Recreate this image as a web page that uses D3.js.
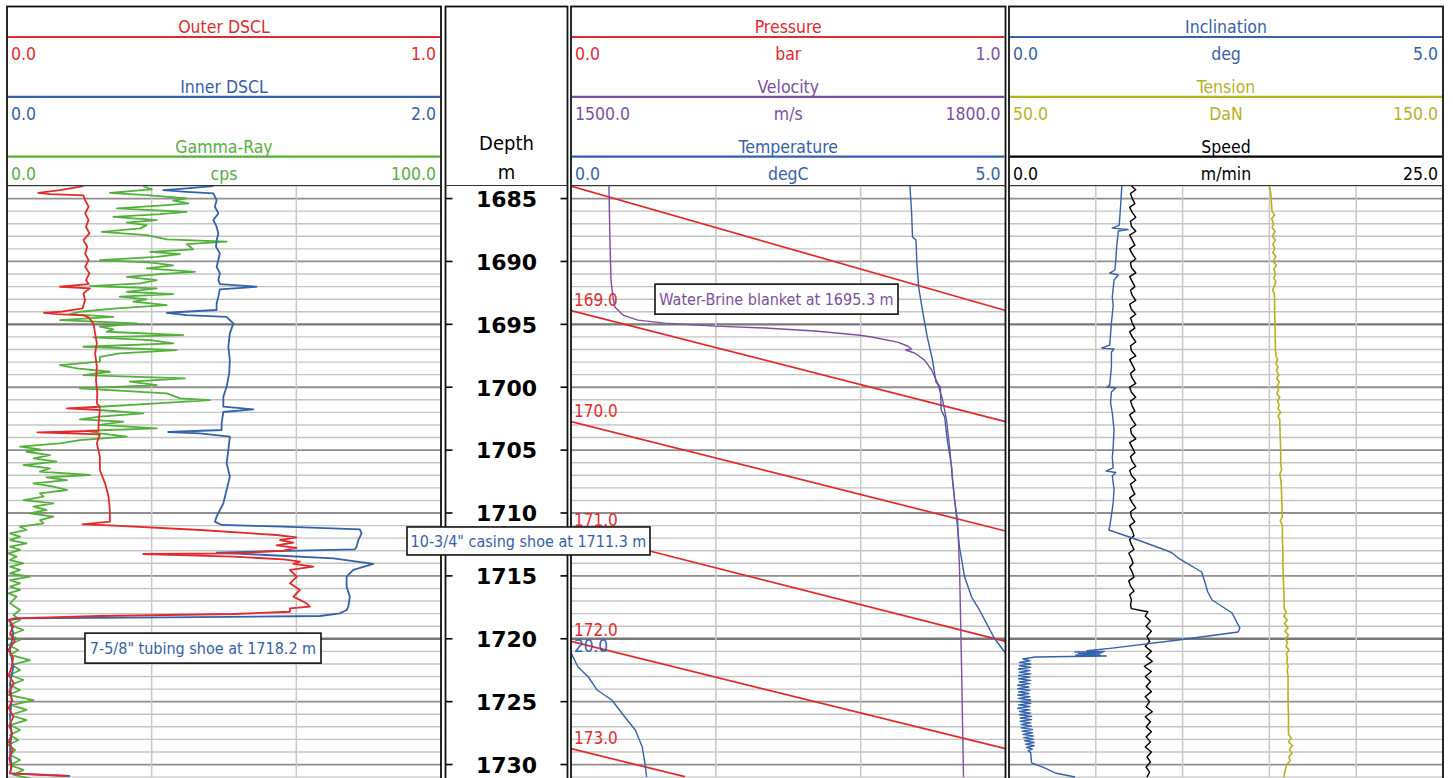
<!DOCTYPE html>
<html>
<head>
<meta charset="utf-8">
<script src="https://cdn.jsdelivr.net/npm/d3@7"></script>
<style>
  html, body { margin: 0; padding: 0; background: #fff; }
  svg { display: block; }
  text { font-family: "DejaVu Sans Condensed", "DejaVu Sans", sans-serif; }
</style>
</head>
<body>
<svg id="chart" width="1453" height="778"></svg>
<script>
// ---------------- Log data (depth in m, value in curve units) ----------------
const depthTicks = [1685, 1690, 1695, 1700, 1705, 1710, 1715, 1720, 1725, 1730];
const heavyDepths = [1695, 1720];

const outerDscl = [
  [1684.01,0.176],[1684.33,0.122],[1684.54,0.072],[1684.64,0.099],[1684.75,0.176],[1685.12,0.180],[1685.65,0.188],
  [1686.18,0.180],[1686.71,0.188],[1687.24,0.182],[1687.77,0.190],[1688.30,0.176],[1688.83,0.185],[1689.36,0.180],
  [1689.89,0.188],[1690.42,0.180],[1690.95,0.190],[1691.48,0.182],[1691.80,0.188],[1692.01,0.122],[1692.14,0.191],
  [1692.54,0.176],[1693.07,0.180],[1693.73,0.174],[1694.00,0.122],[1694.08,0.085],[1694.18,0.115],[1694.29,0.176],
  [1694.45,0.188],[1694.93,0.199],[1695.72,0.203],[1696.52,0.207],[1697.31,0.203],[1698.37,0.207],[1699.43,0.205],
  [1700.49,0.208],[1701.28,0.207],[1701.55,0.214],[1701.68,0.138],[1701.81,0.214],[1702.87,0.211],[1703.46,0.211],
  [1703.59,0.070],[1703.75,0.214],[1704.46,0.207],[1705.52,0.214],[1706.58,0.214],[1707.64,0.226],[1708.70,0.234],
  [1709.76,0.237],[1710.69,0.237],[1710.90,0.174],[1710.98,0.237],[1711.35,0.445],[1711.75,0.621],[1711.93,0.667],
  [1712.15,0.629],[1712.36,0.660],[1712.57,0.621],[1712.78,0.667],[1712.99,0.637],[1713.21,0.522],[1713.26,0.314],
  [1713.47,0.522],[1713.68,0.637],[1713.87,0.675],[1714.05,0.660],[1714.27,0.706],[1714.53,0.652],[1715.06,0.668],
  [1715.59,0.652],[1716.12,0.675],[1716.65,0.660],[1717.18,0.690],[1717.45,0.698],[1717.58,0.652],[1717.85,0.652],
  [1718.03,0.522],[1718.19,0.214],[1718.38,0.015],[1718.51,0.003],[1719.00,0.015],[1719.57,0.007],[1720.20,0.018],
  [1720.89,0.003],[1721.50,0.014],[1722.22,0.011],[1722.90,0.004],[1723.54,0.016],[1724.20,0.005],[1724.87,0.012],
  [1725.50,0.004],[1726.19,0.015],[1726.90,0.005],[1727.52,0.012],[1728.20,0.004],[1728.84,0.013],[1729.50,0.005],
  [1730.17,0.010],[1730.70,0.007],[1730.91,0.138]
];

const innerDscl = [
  [1684.01,0.951],[1684.19,0.828],[1684.33,0.720],[1684.46,0.828],[1684.59,0.951],[1685.12,0.966],[1685.65,0.958],
  [1686.18,0.974],[1686.71,0.951],[1687.24,0.966],[1687.77,0.974],[1688.30,0.966],[1688.83,0.963],[1689.36,0.981],
  [1689.89,0.974],[1690.42,0.966],[1690.95,0.981],[1691.48,0.974],[1691.80,0.981],[1692.01,1.150],[1692.22,0.981],
  [1692.80,0.974],[1693.33,0.966],[1693.86,0.966],[1694.02,0.797],[1694.08,0.736],[1694.26,0.828],[1694.40,1.012],
  [1694.66,1.027],[1694.93,1.043],[1695.72,1.027],[1696.78,1.020],[1697.84,1.027],[1698.90,1.024],[1699.96,1.012],
  [1700.75,0.997],[1701.55,0.997],[1701.76,1.135],[1701.97,0.997],[1702.87,0.989],[1703.40,0.989],[1703.56,0.743],
  [1703.67,0.889],[1703.93,1.027],[1704.99,1.020],[1706.05,1.012],[1707.11,1.027],[1708.17,1.012],[1709.23,0.997],
  [1710.29,0.966],[1710.69,0.958],[1710.95,0.989],[1711.09,1.273],[1711.30,1.626],[1711.62,1.634],[1712.15,1.619],
  [1712.68,1.611],[1712.89,1.603],[1713.05,1.196],[1713.15,0.966],[1713.34,1.196],[1713.60,1.504],[1714.05,1.688],
  [1714.53,1.596],[1715.06,1.565],[1715.86,1.565],[1716.65,1.580],[1717.45,1.573],[1717.71,1.565],[1717.98,1.534],
  [1718.19,1.442],[1718.30,0.736],[1718.38,0.060],[1718.51,0.014],[1719.57,0.029],[1720.89,0.014],[1722.22,0.029],
  [1723.54,0.014],[1724.87,0.021],[1726.19,0.014],[1727.52,0.021],[1728.84,0.014],[1730.17,0.021],[1730.70,0.014],
  [1730.91,0.290]
];

const gammaRay = [
  [1684.01,31.4],[1684.27,33.3],[1684.54,23.7],[1684.72,32.2],[1684.99,41.4],[1685.17,38.3],[1685.38,41.8],[1685.52,36.8],
  [1685.78,25.3],[1686.05,41.4],[1686.23,35.3],[1686.45,24.5],[1686.71,34.5],[1686.92,27.6],[1687.11,32.2],[1687.37,30.7],
  [1687.64,21.8],[1687.90,32.2],[1688.25,36.8],[1688.43,50.6],[1688.62,41.4],[1688.83,42.2],[1689.04,42.9],[1689.23,33.0],
  [1689.41,39.9],[1689.63,34.5],[1689.89,21.4],[1690.10,33.3],[1690.31,38.3],[1690.55,32.2],[1690.82,43.3],[1691.03,34.5],
  [1691.22,27.6],[1691.48,34.5],[1691.75,30.7],[1691.96,19.1],[1692.14,34.5],[1692.41,27.6],[1692.59,38.3],[1692.80,26.0],
  [1693.02,32.2],[1693.20,29.1],[1693.47,36.8],[1693.73,25.3],[1694.00,16.8],[1694.18,14.5],[1694.40,24.5],[1694.66,12.2],
  [1694.93,29.9],[1695.19,21.4],[1695.40,24.5],[1695.59,23.0],[1695.85,40.6],[1696.04,19.9],[1696.25,33.0],[1696.52,38.3],
  [1696.78,17.6],[1697.05,39.1],[1697.31,26.0],[1697.58,21.4],[1697.97,21.4],[1698.24,12.2],[1698.50,16.1],[1698.77,23.7],
  [1699.03,17.6],[1699.30,41.0],[1699.56,28.3],[1699.83,34.5],[1700.09,16.8],[1700.49,36.8],[1700.89,39.9],[1701.02,46.8],
  [1701.28,34.5],[1701.55,21.4],[1701.81,21.4],[1702.08,31.4],[1702.34,21.4],[1702.55,16.8],[1702.74,26.8],[1703.00,21.4],
  [1703.27,34.5],[1703.46,18.4],[1703.67,21.4],[1703.93,27.6],[1704.20,16.8],[1704.46,12.2],[1704.73,3.0],[1704.94,7.6],
  [1705.13,4.5],[1705.39,9.9],[1705.66,6.1],[1705.92,11.4],[1706.19,3.8],[1706.45,9.9],[1706.71,7.6],[1706.98,19.1],
  [1707.17,9.1],[1707.38,13.8],[1707.64,6.1],[1707.91,10.7],[1708.17,13.8],[1708.44,7.6],[1708.70,8.4],[1708.97,3.8],
  [1709.23,10.7],[1709.50,6.1],[1709.76,9.1],[1710.03,5.3],[1710.29,10.7],[1710.56,7.6],[1710.82,8.4],[1711.09,3.0],
  [1711.35,4.5],[1711.62,0.7],[1711.88,3.0],[1712.15,0.7],[1712.41,4.5],[1712.68,0.7],[1712.94,3.0],[1713.21,0.3],
  [1713.47,2.2],[1713.74,0.7],[1714.00,3.8],[1714.27,0.7],[1714.53,3.0],[1714.80,0.7],[1715.06,5.3],[1715.33,0.7],
  [1715.59,3.0],[1715.86,0.7],[1716.12,3.0],[1716.39,0.3],[1716.65,2.2],[1717.18,0.7],[1717.71,3.0],[1718.11,1.5],
  [1718.51,3.0],[1718.90,0.7],[1719.30,3.8],[1719.70,0.7],[1720.10,3.0],[1720.49,0.3],[1720.89,2.6],[1721.29,0.7],
  [1721.69,5.3],[1722.08,1.1],[1722.48,3.0],[1722.88,0.7],[1723.28,3.8],[1723.68,0.7],[1724.07,3.0],[1724.47,0.3],
  [1724.87,6.1],[1725.27,1.1],[1725.66,4.5],[1726.06,0.7],[1726.46,4.5],[1726.86,0.7],[1727.25,3.0],[1727.65,0.7],
  [1728.05,2.6],[1728.45,0.3],[1728.84,1.9],[1729.24,0.7],[1729.64,3.0],[1730.04,0.7],[1730.43,3.8],[1730.83,1.5],
  [1731.10,5.3]
];

// pressure in bar, drawn wrapped on a 1 bar wide scale
const pressure = [
  [1684.01,168.0],[1693.90,169.0],[1702.73,170.0],[1711.43,171.0],[1720.21,172.0],[1728.74,173.0],[1730.96,173.262]
];

const velocity = [
  [1684.01,1526.2],[1688.30,1526.9],[1691.48,1527.6],[1692.83,1529.0],[1693.62,1530.3],[1694.26,1535.9],[1694.66,1546.2],
  [1694.90,1564.8],[1695.14,1599.3],[1695.29,1633.8],[1695.53,1668.3],[1695.85,1697.9],[1696.01,1707.6],[1696.41,1725.5],
  [1696.72,1732.4],[1696.96,1735.2],[1697.04,1731.0],[1697.28,1737.2],[1697.84,1744.1],[1698.63,1749.0],[1699.67,1753.1],
  [1701.02,1756.6],[1702.61,1759.3],[1704.75,1761.4],[1707.38,1763.5],[1708.97,1764.8],[1710.56,1766.9],[1714.53,1768.3],
  [1718.51,1769.0],[1722.48,1769.7],[1726.46,1770.3],[1730.99,1771.0]
];

// temperature in degC, drawn wrapped on a 5 degC wide scale
const temperature = [
  [1684.01,18.90],[1686.15,18.92],[1688.06,18.93],[1688.30,18.97],[1690.13,18.98],[1692.03,19.00],[1694.10,19.05],
  [1696.01,19.10],[1697.84,19.16],[1699.59,19.20],[1699.98,19.25],[1701.81,19.26],[1702.37,19.30],[1704.20,19.33],
  [1706.34,19.38],[1707.38,19.39],[1710.56,19.44],[1712.70,19.47],[1715.09,19.53],[1716.68,19.61],[1717.71,19.70],
  [1718.75,19.78],[1719.94,19.87],[1721.05,19.99],[1721.10,20.00],[1722.24,20.08],[1723.04,20.20],[1724.07,20.30],
  [1724.87,20.47],[1726.22,20.62],[1727.25,20.74],[1728.60,20.82],[1729.87,20.85],[1730.99,20.87]
];

const inclination = [
  [1684.01,1.30],[1685.12,1.29],[1686.15,1.28],[1687.11,1.27],[1687.35,1.19],[1687.46,1.37],[1687.58,1.26],[1688.20,1.25],
  [1688.86,1.24],[1689.89,1.23],[1690.68,1.22],[1690.92,1.16],[1691.08,1.26],[1691.48,1.21],[1692.83,1.19],[1693.50,1.20],
  [1694.90,1.18],[1695.80,1.17],[1696.65,1.16],[1696.88,1.07],[1696.96,1.21],[1697.20,1.18],[1698.39,1.18],[1699.83,1.16],
  [1699.98,1.13],[1700.06,1.23],[1700.38,1.18],[1701.20,1.17],[1702.05,1.19],[1703.40,1.21],[1704.75,1.20],[1705.60,1.19],
  [1706.42,1.20],[1706.66,1.12],[1706.78,1.23],[1707.06,1.19],[1708.10,1.21],[1709.21,1.20],[1710.20,1.18],[1711.11,1.16],
  [1711.35,1.15],[1711.99,1.42],[1712.94,1.80],[1713.18,1.88],[1713.58,1.95],[1714.69,2.22],[1715.57,2.26],[1716.28,2.29],
  [1716.92,2.34],[1717.95,2.57],[1719.15,2.66],[1719.46,2.64],[1720.10,1.95],[1720.74,1.19],[1720.95,0.90],[1721.00,1.10],
  [1721.05,0.76],[1721.10,1.08],[1721.15,0.80],[1721.21,1.05],[1721.29,0.77],[1721.37,1.12],[1721.45,0.30],[1721.61,0.16],
  [1721.75,0.24],[1721.88,0.12],[1722.01,0.25],[1722.14,0.12],[1722.27,0.25],[1722.40,0.11],[1722.53,0.24],[1722.66,0.12],
  [1722.79,0.25],[1722.92,0.11],[1723.05,0.24],[1723.18,0.11],[1723.31,0.25],[1723.44,0.12],[1723.57,0.24],[1723.70,0.10],
  [1723.83,0.23],[1723.96,0.10],[1724.09,0.24],[1724.22,0.11],[1724.35,0.23],[1724.48,0.10],[1724.61,0.24],[1724.74,0.11],
  [1724.87,0.25],[1725.00,0.12],[1725.13,0.25],[1725.26,0.11],[1725.39,0.24],[1725.52,0.10],[1725.65,0.24],[1725.78,0.12],
  [1725.91,0.25],[1726.04,0.12],[1726.17,0.26],[1726.30,0.13],[1726.43,0.26],[1726.56,0.13],[1726.69,0.25],[1726.82,0.14],
  [1726.95,0.26],[1727.08,0.14],[1727.21,0.27],[1727.34,0.15],[1727.47,0.27],[1727.60,0.16],[1727.73,0.28],[1727.86,0.17],
  [1727.99,0.28],[1728.12,0.18],[1728.25,0.29],[1728.38,0.19],[1728.51,0.29],[1728.64,0.20],[1728.77,0.27],[1728.90,0.22],
  [1729.05,0.25],[1729.87,0.26],[1730.27,0.41],[1730.67,0.53],[1730.99,0.76]
];

const tension = [
  [1684.00,110.0],[1684.50,110.3],[1685.00,110.4],[1685.50,110.5],[1686.00,110.6],[1686.30,111.2],[1686.60,110.5],
  [1687.00,111.0],[1687.30,110.6],[1687.60,111.3],[1688.00,110.7],[1688.30,111.4],[1688.60,110.8],[1689.00,111.2],
  [1689.30,110.8],[1689.60,111.5],[1690.00,110.9],[1690.30,111.6],[1690.60,111.0],[1691.00,111.4],[1691.30,111.0],
  [1691.60,111.5],[1692.00,111.1],[1692.30,110.7],[1692.50,111.1],[1693.00,111.2],[1694.00,111.2],[1695.00,111.3],
  [1697.00,111.4],[1697.50,111.5],[1697.80,111.9],[1698.10,111.5],[1698.40,112.0],[1698.70,111.6],[1699.00,112.2],
  [1699.30,111.7],[1699.60,112.3],[1699.90,111.8],[1700.20,112.1],[1700.50,111.7],[1700.80,112.4],[1701.10,111.9],
  [1701.40,112.2],[1701.70,112.0],[1702.00,112.6],[1702.30,112.0],[1702.60,112.4],[1703.00,112.4],[1704.00,112.5],
  [1705.00,112.6],[1706.00,112.6],[1706.60,112.8],[1706.90,112.4],[1707.50,112.7],[1708.50,112.8],[1709.50,112.9],
  [1710.30,113.0],[1710.60,112.5],[1711.00,113.0],[1712.00,113.0],[1713.00,113.1],[1714.00,113.1],[1715.00,113.2],
  [1716.00,113.3],[1717.00,113.4],[1717.60,113.4],[1717.90,113.9],[1718.20,113.3],[1718.50,114.1],[1718.80,113.5],
  [1719.10,114.3],[1719.40,113.6],[1719.70,114.4],[1720.00,113.7],[1720.30,114.2],[1720.60,113.8],[1720.90,114.5],
  [1721.20,113.9],[1721.50,114.2],[1721.80,114.0],[1722.20,114.3],[1722.50,114.1],[1723.00,114.3],[1724.00,114.3],
  [1725.00,114.3],[1726.00,114.4],[1727.00,114.4],[1727.60,114.4],[1727.90,115.0],[1728.20,114.4],[1728.50,115.3],
  [1728.80,114.6],[1729.10,115.2],[1729.40,114.5],[1729.70,114.8],[1730.00,114.0],[1730.50,113.6],[1731.00,113.3]
];

const speed = [
  [1684.0,7.05],[1684.3,7.30],[1684.6,7.00],[1685.0,7.10],[1685.4,7.25],[1685.7,6.95],[1686.1,7.10],[1686.5,7.30],
  [1686.8,7.00],[1687.2,7.05],[1687.6,7.30],[1687.9,6.95],[1688.3,7.10],[1688.7,7.25],[1689.0,6.95],[1689.4,7.10],
  [1689.8,7.30],[1690.1,7.00],[1690.5,7.05],[1690.9,7.30],[1691.2,6.95],[1691.6,7.10],[1692.0,7.25],[1692.3,7.00],
  [1692.7,7.10],[1693.1,7.30],[1693.4,6.95],[1693.8,7.05],[1694.2,7.30],[1694.5,7.00],[1694.9,7.10],[1695.3,7.25],
  [1695.6,6.95],[1696.0,7.10],[1696.4,7.30],[1696.7,7.00],[1697.1,7.05],[1697.5,7.30],[1697.8,6.95],[1698.2,7.10],
  [1698.6,7.25],[1698.9,7.00],[1699.3,7.10],[1699.7,7.30],[1700.0,6.95],[1700.4,7.05],[1700.8,7.30],[1701.1,7.00],
  [1701.5,7.10],[1701.9,7.25],[1702.2,6.95],[1702.6,7.10],[1703.0,7.30],[1703.3,7.00],[1703.7,7.05],[1704.1,7.30],
  [1704.4,6.95],[1704.8,7.10],[1705.2,7.25],[1705.5,7.00],[1705.9,7.10],[1706.3,7.30],[1706.6,6.95],[1707.0,7.05],
  [1707.4,7.30],[1707.7,7.00],[1708.1,7.10],[1708.5,7.25],[1708.8,6.95],[1709.2,7.10],[1709.6,7.30],[1709.9,7.00],
  [1710.3,7.05],[1710.7,7.25],[1711.0,6.95],[1711.4,7.10],[1711.8,7.20],[1712.1,6.95],[1712.5,7.05],[1712.9,7.20],
  [1713.2,6.90],[1713.6,7.05],[1714.0,7.15],[1714.3,6.95],[1714.7,7.10],[1715.1,7.20],[1715.4,6.90],[1715.8,7.00],
  [1716.2,7.20],[1716.5,6.95],[1716.9,7.05],[1717.3,7.00],[1717.6,7.05],[1717.75,7.60],[1717.85,8.00],[1718.2,7.85],
  [1718.6,8.15],[1719.0,7.90],[1719.4,8.20],[1719.8,7.95],[1720.2,8.10],[1720.6,7.85],[1721.0,8.20],[1721.4,7.90],
  [1721.8,8.25],[1722.2,7.80],[1722.6,8.20],[1723.0,7.85],[1723.4,8.15],[1723.8,7.90],[1724.2,8.20],[1724.6,7.85],
  [1725.0,8.10],[1725.4,7.90],[1725.8,8.25],[1726.2,7.85],[1726.6,8.15],[1727.0,7.90],[1727.4,8.20],[1727.8,7.90],
  [1728.2,8.15],[1728.6,7.85],[1729.0,8.20],[1729.4,7.95],[1729.8,8.15],[1730.2,7.90],[1730.6,8.10],[1731.0,7.95]
];

// Track headers: curve name, unit, scale ends
const track1Curves = [
  { key: "outer", name: "Outer DSCL", unit: "",    min: 0, max: 1 },
  { key: "inner", name: "Inner DSCL", unit: "",    min: 0, max: 2 },
  { key: "gamma", name: "Gamma-Ray",  unit: "cps", min: 0, max: 100 }
];
const track3Curves = [
  { key: "pres", name: "Pressure",    unit: "bar",  min: 0,    max: 1 },
  { key: "vel",  name: "Velocity",    unit: "m/s",  min: 1500, max: 1800 },
  { key: "temp", name: "Temperature", unit: "degC", min: 0,    max: 5 }
];
const track4Curves = [
  { key: "incl",  name: "Inclination", unit: "deg",   min: 0,  max: 5 },
  { key: "tens",  name: "Tension",     unit: "DaN",   min: 50, max: 150 },
  { key: "speed", name: "Speed",       unit: "m/min", min: 0,  max: 25 }
];

// Event annotations
const events = [
  { key: "brine",  label: "Water-Brine blanket", depth: 1695.3 },
  { key: "casing", label: "10-3/4\" casing shoe", depth: 1711.3 },
  { key: "tubing", label: "7-5/8\" tubing shoe",  depth: 1718.2 }
];

// ---------------- Styling & layout ----------------
const C = {
  red: "#e4292b", blue: "#3362ad", green: "#52b13a", purple: "#7b4fa3",
  olive: "#b6b21d", black: "#000000"
};
const curveColor = {
  outer: C.red, inner: C.blue, gamma: C.green,
  pres: C.red, vel: C.purple, temp: C.blue,
  incl: C.blue, tens: C.olive, speed: C.black
};
const maxLabelColor = { pres: C.purple };
const eventStyle = {
  brine:  { color: C.purple, x: 655, w: 243, dy: -44, h: 30 },
  casing: { color: C.blue,   x: 407, w: 243, dy: -2.4, h: 28 },
  tubing: { color: C.blue,   x: 85,  w: 236, dy: 17,  h: 30 }
};

const W = 1453, H = 778;
const frameTop = 6.5, plotTop = 186;
const T1 = { x0: 7,    x1: 441,    div: 3 };
const TD = { x0: 445.5, x1: 567.5 };
const T3 = { x0: 571,  x1: 1005.5, div: 3 };
const T4 = { x0: 1009, x1: 1443,   div: 5 };

const svg = d3.select("#chart");
const yScale = d3.scaleLinear().domain([1684.0, 1731.07]).range([plotTop, H]);
const fmt = d3.format(".1f");

// ---------------- Grid ----------------
function drawGrid(t) {
  const g = svg.append("g");
  const [d0, d1] = yScale.domain();
  const depths = d3.range(Math.ceil(d0), Math.floor(d1) + 1, 1);
  g.selectAll("line.h").data(depths).join("line")
    .attr("x1", t.x0).attr("x2", t.x1)
    .attr("y1", d => yScale(d)).attr("y2", d => yScale(d))
    .attr("stroke", d => heavyDepths.includes(d) ? "#777" : (d % 5 === 0 ? "#8e8e8e" : "#c4c4c4"))
    .attr("stroke-width", d => heavyDepths.includes(d) ? 2.4 : (d % 5 === 0 ? 1.8 : 1.4));
  const xs = d3.scaleLinear().domain([0, t.div]).range([t.x0, t.x1]);
  g.selectAll("line.v").data(d3.range(1, t.div)).join("line")
    .attr("x1", d => xs(d)).attr("x2", d => xs(d))
    .attr("y1", plotTop).attr("y2", H)
    .attr("stroke", "#c8c8c8").attr("stroke-width", 1.5);
}
[T1, T3, T4].forEach(drawGrid);

// ---------------- Clip paths ----------------
const defs = svg.append("defs");
function clipFor(t, id) {
  defs.append("clipPath").attr("id", id).append("rect")
    .attr("x", t.x0).attr("y", plotTop).attr("width", t.x1 - t.x0).attr("height", H - plotTop);
  return svg.append("g").attr("clip-path", `url(#${id})`);
}

const lineGen = xs => d3.line().x(p => xs(p[1])).y(p => yScale(p[0]));

function drawCurve(g, data, xs, color, width) {
  g.append("path").datum(data)
    .attr("fill", "none").attr("stroke", color).attr("stroke-width", width)
    .attr("stroke-linejoin", "round").attr("d", lineGen(xs));
}

// Split a curve into back-up wraps of a given span; returns segments in local units and wrap points
function wrapSegments(data, span) {
  const segs = [], marks = [];
  let band = Math.floor(data[0][1] / span + 1e-9);
  let seg = [[data[0][0], data[0][1] - band * span]];
  for (let i = 1; i < data.length; i++) {
    const [da, va] = data[i - 1], [db, vb] = data[i];
    while (vb > va && vb >= (band + 1) * span - 1e-9) {
      const b = (band + 1) * span, t = (b - va) / (vb - va), dc = da + t * (db - da);
      seg.push([dc, span]); segs.push(seg);
      band++; seg = [[dc, 0]]; marks.push({ depth: dc, value: b });
    }
    while (vb < va && vb < band * span) {
      const b = band * span, t = (b - va) / (vb - va), dc = da + t * (db - da);
      seg.push([dc, 0]); segs.push(seg);
      band--; seg = [[dc, span]]; marks.push({ depth: dc, value: b - span });
    }
    seg.push([db, vb - band * span]);
  }
  segs.push(seg);
  return { segs, marks };
}

// ---------------- Track 1 curves ----------------
{
  const g = clipFor(T1, "clip1");
  const xs = c => d3.scaleLinear().domain([c.min, c.max]).range([T1.x0, T1.x1]);
  drawCurve(g, gammaRay, xs(track1Curves[2]), curveColor.gamma, 1.8);
  drawCurve(g, innerDscl, xs(track1Curves[1]), curveColor.inner, 1.8);
  drawCurve(g, outerDscl, xs(track1Curves[0]), curveColor.outer, 1.8);
}

// ---------------- Track 3 curves ----------------
{
  const g = clipFor(T3, "clip3");
  const pr = track3Curves[0], ve = track3Curves[1], te = track3Curves[2];
  const xsP = d3.scaleLinear().domain([0, pr.max - pr.min]).range([T3.x0, T3.x1]);
  const xsV = d3.scaleLinear().domain([ve.min, ve.max]).range([T3.x0, T3.x1]);
  const xsT = d3.scaleLinear().domain([0, te.max - te.min]).range([T3.x0, T3.x1]);

  const wp = wrapSegments(pressure, pr.max - pr.min);
  wp.segs.forEach(s => drawCurve(g, s, xsP, curveColor.pres, 1.7));
  const wt = wrapSegments(temperature, te.max - te.min);
  wt.segs.forEach(s => drawCurve(g, s, xsT, curveColor.temp, 1.4));
  drawCurve(g, velocity, xsV, curveColor.vel, 1.4);

  const lab = svg.append("g").attr("font-size", 17);
  lab.selectAll("text.p").data(wp.marks).join("text")
    .attr("x", T3.x0 + 3).attr("y", d => yScale(d.depth) - 5)
    .attr("fill", curveColor.pres).text(d => fmt(d.value));
  lab.selectAll("text.t").data(wt.marks).join("text")
    .attr("x", T3.x0 + 3).attr("y", d => yScale(d.depth) - 1)
    .attr("fill", curveColor.temp).text(d => fmt(d.value));
}

// ---------------- Track 4 curves ----------------
{
  const g = clipFor(T4, "clip4");
  const xs = c => d3.scaleLinear().domain([c.min, c.max]).range([T4.x0, T4.x1]);
  drawCurve(g, tension, xs(track4Curves[1]), curveColor.tens, 1.6);
  drawCurve(g, speed, xs(track4Curves[2]), curveColor.speed, 1.4);
  drawCurve(g, inclination, xs(track4Curves[0]), curveColor.incl, 1.4);
}

// ---------------- Frames & headers ----------------
function drawFrame(t) {
  svg.append("rect").attr("x", t.x0).attr("y", frameTop)
    .attr("width", t.x1 - t.x0).attr("height", H + 10 - frameTop)
    .attr("fill", "none").attr("stroke", "#111").attr("stroke-width", 1.8);
  svg.append("line").attr("x1", t.x0).attr("x2", t.x1)
    .attr("y1", plotTop - 0.5).attr("y2", plotTop - 0.5)
    .attr("stroke", "#333").attr("stroke-width", 1);
}
[T1, TD, T3, T4].forEach(drawFrame);

function drawHeader(t, curves) {
  const g = svg.append("g").attr("font-size", 17.5);
  const cx = (t.x0 + t.x1) / 2;
  curves.forEach((c, i) => {
    const top = 6 + i * 59.8;
    const col = curveColor[c.key];
    g.append("text").attr("x", cx).attr("y", top + 27).attr("text-anchor", "middle")
      .attr("fill", col).text(c.name);
    g.append("line").attr("x1", t.x0 + 1).attr("x2", t.x1 - 1)
      .attr("y1", top + 31).attr("y2", top + 31)
      .attr("stroke", col).attr("stroke-width", 2.2);
    g.append("text").attr("x", t.x0 + 4).attr("y", top + 54).attr("fill", col).text(fmt(c.min));
    g.append("text").attr("x", cx).attr("y", top + 54).attr("text-anchor", "middle")
      .attr("fill", col).text(c.unit);
    g.append("text").attr("x", t.x1 - 5).attr("y", top + 54).attr("text-anchor", "end")
      .attr("fill", maxLabelColor[c.key] || col).text(fmt(c.max));
  });
}
drawHeader(T1, track1Curves);
drawHeader(T3, track3Curves);
drawHeader(T4, track4Curves);

// ---------------- Depth track ----------------
{
  const g = svg.append("g");
  const cx = (TD.x0 + TD.x1) / 2;
  g.append("text").attr("x", cx).attr("y", 150).attr("text-anchor", "middle")
    .attr("font-size", 20).attr("fill", "#000").text("Depth");
  g.append("text").attr("x", cx).attr("y", 179).attr("text-anchor", "middle")
    .attr("font-size", 20).attr("fill", "#000").text("m");

  g.selectAll("line.tl").data(depthTicks).join("line")
    .attr("x1", TD.x0).attr("x2", TD.x0 + 7)
    .attr("y1", d => yScale(d)).attr("y2", d => yScale(d))
    .attr("stroke", "#000").attr("stroke-width", 1.6);
  g.selectAll("line.tr").data(depthTicks).join("line")
    .attr("x1", TD.x1 - 7).attr("x2", TD.x1)
    .attr("y1", d => yScale(d)).attr("y2", d => yScale(d))
    .attr("stroke", "#000").attr("stroke-width", 1.6);
  g.selectAll("text.dl").data(depthTicks).join("text")
    .attr("x", cx).attr("y", d => yScale(d)).attr("dy", "0.38em")
    .attr("text-anchor", "middle")
    .style("font-family", "'DejaVu Sans', sans-serif")
    .attr("font-weight", "bold").attr("font-size", 22).attr("fill", "#000")
    .text(d => d);
}

// ---------------- Event annotations ----------------
{
  const g = svg.append("g");
  events.forEach(e => {
    const s = eventStyle[e.key];
    const top = yScale(e.depth) + s.dy;
    g.append("rect").attr("x", s.x).attr("y", top).attr("width", s.w).attr("height", s.h)
      .attr("fill", "#fff").attr("stroke", "#111").attr("stroke-width", 1.6);
    g.append("text").attr("x", s.x + s.w / 2).attr("y", top + s.h / 2).attr("dy", "0.36em")
      .attr("text-anchor", "middle").attr("font-size", 16).attr("fill", s.color)
      .text(`${e.label} at ${fmt(e.depth)} m`);
  });
}
</script>
</body>
</html>
